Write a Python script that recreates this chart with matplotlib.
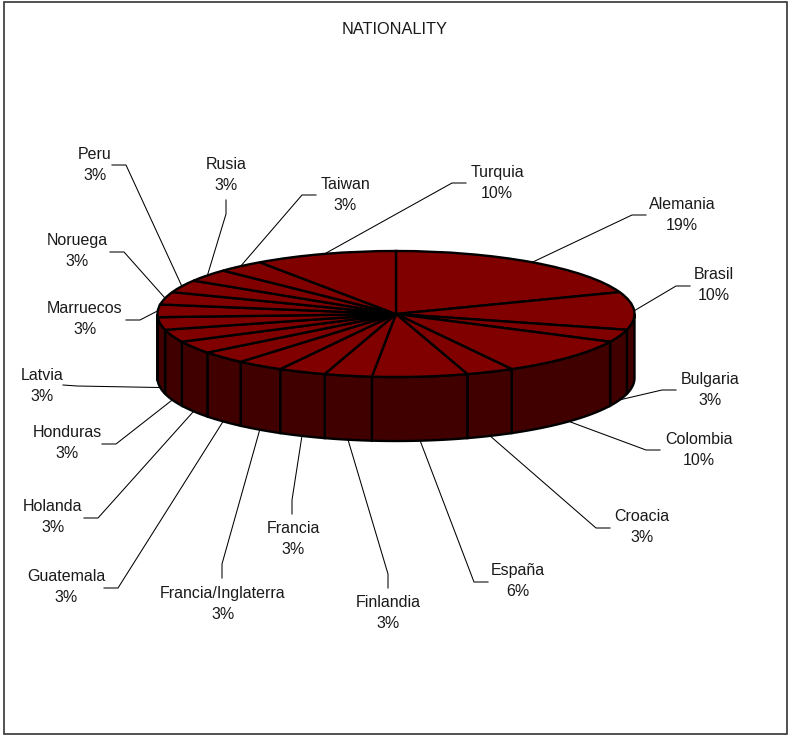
import numpy as np
import matplotlib
matplotlib.use("Agg")
import matplotlib.pyplot as plt

plt.rcParams["font.family"] = ["Liberation Sans", "DejaVu Sans"]

# Slices clockwise from 12 o'clock (31 people in total)
countries = ["Alemania", "Brasil", "Bulgaria", "Colombia", "Croacia", "España",
             "Finlandia", "Francia", "Francia/Inglaterra", "Guatemala", "Holanda",
             "Honduras", "Latvia", "Marruecos", "Noruega", "Peru", "Rusia",
             "Taiwan", "Turquia"]
people = [6, 3, 1, 3, 1, 2, 1, 1, 1, 1, 1, 1, 1, 1, 1, 1, 1, 1, 3]

# Where each label sits, in image pixels
label_xy = [(682, 215), (714, 285), (710, 390), (699, 450), (642, 527), (518, 581),
            (388, 613), (293, 539), (223, 604), (66, 587), (53, 517),
            (67, 443), (42, 386), (85, 319), (77, 251), (95, 165), (226, 175),
            (345, 195), (497, 183)]
# Leader line: end next to the label, then the elbow
tail_xy = [(646, 215), (690, 286), (676, 390), (660, 450), (610, 528), (488, 582),
           (388, 588), (292, 514), (222, 578), (104, 588), (84, 518),
           (102, 444), (63, 385), (126, 320), (110, 252), (112, 165), (226, 200),
           (316, 195), (466, 183)]
elbow_xy = [(632, 215), (676, 286), (662, 390), (646, 450), (596, 528), (474, 582),
            (388, 574), (292, 500), (222, 564), (118, 588), (98, 518),
            (116, 444), (77, 386), (140, 320), (124, 252), (126, 165), (226, 214),
            (302, 195), (452, 183)]

TOP_COLOR = "#800000"
WALL_COLOR = "#400000"
TEXT_COLOR = "#1a1a1a"

# Pie ellipse in image pixels
CX, CY = 396, 314
RX, RY = 238.5, 63
DEPTH = 64 / RY


def px(x, y):
    # image pixels -> axes data, where the pie has radius 1
    return (x - CX) / RX, (CY - y) / RY


fig = plt.figure(figsize=(7.88, 7.35), dpi=100)
ax = fig.add_axes([0, 0, 1, 1])

ax.pie(people, startangle=90, counterclock=False, colors=[TOP_COLOR] * len(people),
       wedgeprops={"edgecolor": "black", "linewidth": 1.7, "zorder": 3})

# pie() forces equal aspect, undo it so the circle becomes the tilted ellipse
ax.set_aspect("auto")
x0, y1 = px(0, 0)
x1, y0 = px(788, 735)
ax.set_xlim(x0, x1)
ax.set_ylim(y0, y1)
ax.axis("off")

# Clockwise angle from the top for each slice boundary
edges = np.concatenate([[0], np.cumsum(people)]) / sum(people) * 2 * np.pi

# Front wall, only the part between 3 and 9 o'clock shows
for start, end in zip(edges[:-1], edges[1:]):
    a = max(start, np.pi / 2)
    b = min(end, 3 * np.pi / 2)
    if a >= b:
        continue
    t = np.linspace(a, b, 40)
    xs = np.sin(t)
    ys = np.cos(t)
    ax.fill(np.concatenate([xs, xs[::-1]]), np.concatenate([ys, ys[::-1] - DEPTH]),
            facecolor=WALL_COLOR, edgecolor="black", linewidth=1.7, zorder=2)

# Leader lines and labels
for i, name in enumerate(countries):
    mid = (edges[i] + edges[i + 1]) / 2
    end_x = np.sin(mid)
    end_y = np.cos(mid)
    if end_y < 0:
        end_y -= DEPTH
    tx, ty = px(*tail_xy[i])
    ex, ey = px(*elbow_xy[i])
    ax.plot([tx, ex, end_x], [ty, ey, end_y], color="black", linewidth=0.75, zorder=1)

    pct = 100 * people[i] / sum(people)
    lx, ly = px(*label_xy[i])
    ax.text(lx, ly, f"{name}\n{pct:.0f}%", ha="center", va="center", fontsize=11.5,
            color=TEXT_COLOR, linespacing=1.52)

tx, ty = px(395, 29)
ax.text(tx, ty, "NATIONALITY", ha="center", va="center", fontsize=11.8, color=TEXT_COLOR)

# Outer chart border
fig.add_artist(plt.Rectangle((3.5 / 788, 1 - 733.5 / 735), 783.5 / 788, 731.5 / 735,
                             transform=fig.transFigure, fill=False,
                             edgecolor="#333333", linewidth=1.2))

fig.savefig("out.png", dpi=100, facecolor="white")
